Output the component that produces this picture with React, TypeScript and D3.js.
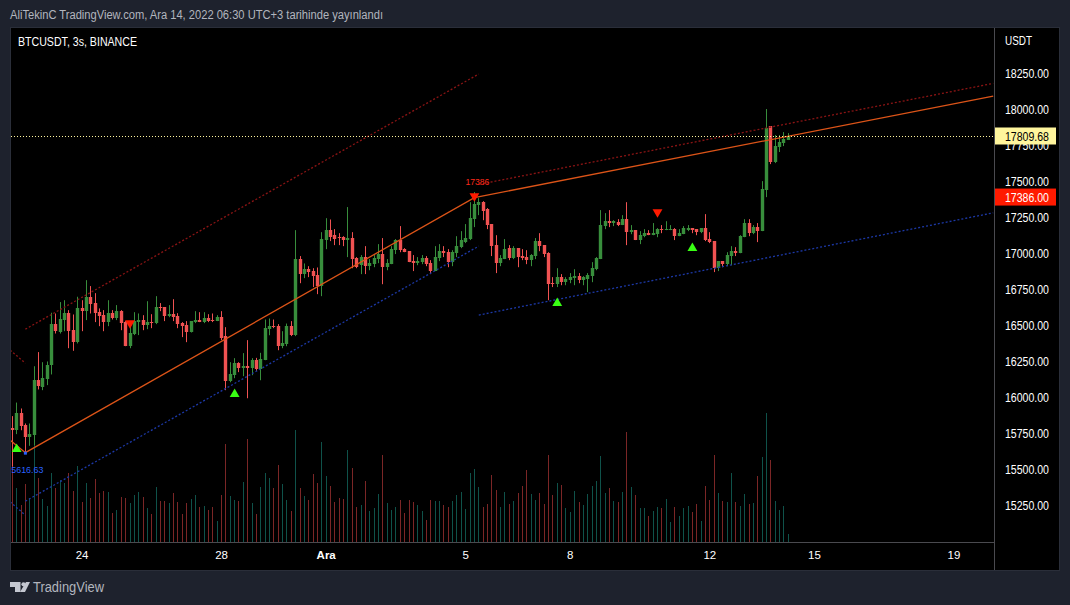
import React from 'react';
import * as d3 from 'd3';

// 3 hour candles, one per entry, oldest first
const opens = [15789,15772,15895,15807,15726,15740,16119,16071,16126,16223,16508,16452,16536,16584,16466,16381,16619,16598,16695,16654,16591,16570,16522,16584,16554,16598,16522,16355,16439,16522,16536,16501,16522,16513,16626,16626,16563,16577,16563,16515,16501,16452,16522,16536,16522,16550,16536,16529,16556,16425,16112,16154,16237,16203,16216,16203,16258,16200,16258,16473,16494,16494,16355,16369,16494,16431,16959,16855,16889,16876,16848,16771,17091,17160,17125,17111,17111,17091,17105,16966,16917,16973,16910,16924,16959,16994,16903,16924,17021,17091,17028,17014,16945,16931,16938,16966,16931,16876,16966,17014,17007,16938,17000,17042,17077,17098,17236,17334,17354,17306,17202,17056,16931,16959,17035,16966,17035,16980,16973,16952,16980,17084,17056,17000,16792,16785,16834,16799,16813,16827,16841,16813,16820,16841,16889,16959,17188,17222,17209,17216,17195,17236,17146,17160,17091,17118,17139,17125,17132,17167,17160,17160,17167,17118,17132,17160,17174,17167,17146,17174,17098,17084,16896,16945,16924,16980,17014,17000,17111,17209,17139,17181,17153,17438,17882,17632,17736,17764,17785];
const highs = [15870,15964,15923,15819,15819,16216,16314,16244,16249,16587,16582,16661,16674,16605,16575,16698,16674,16813,16772,16723,16617,16605,16674,16605,16640,16605,16529,16524,16591,16582,16570,16667,16577,16702,16654,16626,16640,16681,16584,16522,16529,16529,16598,16591,16591,16577,16582,16570,16598,16487,16244,16272,16244,16307,16397,16272,16274,16309,16540,16547,16540,16508,16459,16512,16529,17160,16980,16929,16910,16896,16901,17146,17243,17234,17167,17139,17118,17320,17146,16973,16987,17049,16959,16987,17063,17105,16959,17049,17098,17188,17035,17014,16987,16973,16987,16980,16952,17049,17063,17049,17028,17021,17118,17153,17202,17354,17424,17382,17361,17313,17202,17125,16987,17098,17056,17049,17035,17028,17021,16994,17105,17139,17056,17007,16834,16896,16855,16834,16862,16889,16862,16841,16862,16938,16973,17299,17278,17299,17229,17236,17264,17354,17195,17160,17153,17167,17160,17209,17174,17195,17222,17195,17174,17167,17188,17195,17174,17167,17174,17271,17146,17084,16945,16945,17007,17049,17042,17125,17236,17236,17195,17209,17500,18000,17882,17820,17820,17840,17833];
const lows = [15520,15745,15772,15616.63,15664,15668,16055,16050,16085,16159,16443,16443,16459,16341,16323,16374,16459,16536,16582,16522,16494,16459,16494,16540,16536,16466,16355,16341,16432,16432,16466,16473,16480,16508,16598,16529,16556,16529,16480,16418,16383,16450,16515,16522,16515,16522,16522,16529,16397,16050,16105,16133,16175,16147,15994,16154,16184,16119,16258,16431,16480,16327,16341,16355,16425,16425,16792,16827,16834,16765,16716,16702,17028,17084,17056,17056,17049,16973,16896,16896,16855,16855,16882,16903,16931,16785,16882,16924,16994,17007,17007,16938,16876,16917,16924,16910,16855,16876,16945,16973,16903,16910,16973,17035,17070,17091,17181,17264,17229,17167,16980,16862,16910,16959,16952,16959,16903,16952,16924,16910,16959,17014,16973,16674,16765,16765,16778,16778,16792,16778,16792,16778,16730,16799,16882,16959,17167,17181,17188,17188,17195,17056,17132,17091,17063,17111,17125,17125,17111,17139,17160,17160,17091,17118,17132,17153,17139,17125,17139,17084,17070,16869,16876,16903,16910,16917,16980,17000,17111,17118,17132,17077,17153,17389,17618,17625,17702,17743,17785];
const closes = [15772,15895,15800,15726,15745,16119,16078,16133,16223,16508,16459,16543,16582,16459,16385,16619,16598,16695,16647,16584,16563,16522,16584,16554,16598,16515,16355,16445,16529,16536,16501,16522,16517,16626,16619,16563,16577,16556,16508,16494,16452,16529,16536,16522,16550,16529,16529,16556,16411,16112,16161,16237,16203,16216,16203,16258,16200,16265,16480,16494,16485,16355,16376,16494,16431,16959,16855,16889,16869,16841,16776,17098,17160,17111,17098,17105,17091,17105,16959,16903,16973,16910,16931,16966,16994,16903,16931,17028,17091,17021,17007,16938,16931,16945,16966,16924,16876,16973,17014,17000,16938,17007,17049,17091,17105,17243,17340,17354,17292,17195,17049,16931,16966,17028,16966,17035,16973,16966,16952,16987,17084,17049,16994,16785,16785,16834,16799,16820,16834,16841,16813,16834,16848,16896,16966,17195,17222,17209,17222,17195,17236,17146,17160,17091,17125,17139,17125,17139,17167,17160,17167,17167,17118,17139,17174,17174,17160,17146,17174,17091,17077,16896,16945,16924,16987,17014,17000,17118,17209,17139,17181,17153,17445,17868,17632,17743,17771,17792,17809.68];
const volumes = [245,163,112,175,132,292,193,130,109,207,163,187,177,207,152,229,121,178,133,190,146,152,151,88,97,136,133,118,142,151,136,103,85,166,124,124,118,148,121,85,118,130,142,106,109,97,106,64,142,295,139,127,124,181,310,118,85,166,208,193,163,232,175,127,94,337,163,139,127,205,178,301,199,169,121,133,130,277,223,106,112,184,94,103,145,262,118,97,106,125,88,125,121,112,94,67,127,124,124,112,106,124,142,151,100,208,220,166,106,115,202,157,106,151,115,124,148,169,217,145,127,148,115,262,142,178,172,103,91,154,121,112,145,169,184,259,148,163,124,121,151,331,166,142,103,103,79,94,106,103,130,61,106,79,103,109,91,115,64,169,127,262,148,124,121,208,121,109,145,115,118,199,256,387,247,124,97,109,25];

const priceTicks = [18250,18000,17750,17500,17250,17000,16750,16500,16250,16000,15750,15500,15250];
const timeTicks = [
  { i: 16, label: '24' },
  { i: 48, label: '28' },
  { i: 72, label: 'Ara' },
  { i: 104, label: '5' },
  { i: 128, label: '8' },
  { i: 160, label: '12' },
  { i: 184, label: '15' },
  { i: 216, label: '19' },
];

// [bar index, price]
const zigzag = [[-0.5,15703],[3,15616.63],[106,17386],[225,18090]];
const upperChannels = [
  [[-0.5,16328],[3,16237]],
  [[3,16473],[107,18243]],
  [[107,17477],[225,18178]],
];
const lowerChannels = [
  [[-0.5,15275],[3,15183]],
  [[3,15280],[107,17049]],
  [[107,16571],[225,17280]],
];
const buySignals = [[1,15640],[51,16022],[125,16654],[156,17035]];
const sellSignals = [[27,16515],[106,17396],[148,17285]];

const lastPrice = 17809.68;
const pivotHigh = 17386;
const pivotLow = 15616.63;

const RED = '#f05252';
const GREEN = '#388e3c';
const VOL_RED = '#7b2626';
const VOL_GREEN = '#0f524a';
const FONT = '"Liberation Sans", Arial, sans-serif';

export default function App() {
  const x = d3.scaleLinear().domain([0, 178]).range([12.3, 788.3]);
  const y = d3.scaleLinear().domain([15250, 18250]).range([505.5, 73]);
  const yVol = d3.scaleLinear().domain([0, 387]).range([542, 413]);
  const px = (i: number) => Math.round(x(i) - 0.5) + 0.5;

  const line = d3.line<number[]>().x(d => x(d[0])).y(d => y(d[1]));
  const triangle = d3.symbol().type(d3.symbolTriangle).size(42)();
  const fmt = d3.format('.2f');
  const lastY = Math.round(y(lastPrice)) + 0.5;

  return (
    <svg
      width={1070}
      height={605}
      style={{ position: 'absolute', left: 0, top: 0, display: 'block', background: '#1e222d', fontFamily: FONT }}
    >
      <defs>
        <clipPath id="pane">
          <rect x={11} y={28} width={983} height={514} />
        </clipPath>
      </defs>

      {/* frame */}
      <rect x={10.5} y={27.5} width={1049} height={543} fill="#000" stroke="#2a2e39" />
      <line x1={994.5} x2={994.5} y1={28} y2={570} stroke="#4a4a4f" />
      <line x1={11} x2={994} y1={542.5} y2={542.5} stroke="#4a4a4f" />

      <g clipPath="url(#pane)">
        {/* volume */}
        <g shapeRendering="crispEdges">
          {volumes.map((v, i) => (
            <line
              key={i}
              x1={px(i)}
              x2={px(i)}
              y1={yVol(0)}
              y2={yVol(v)}
              stroke={closes[i] >= opens[i] ? VOL_GREEN : VOL_RED}
            />
          ))}
        </g>

        {/* candles */}
        {opens.map((o, i) => {
          const c = closes[i];
          const color = c >= o ? GREEN : RED;
          const top = Math.round(y(Math.max(o, c)));
          const bottom = Math.round(y(Math.min(o, c)));
          return (
            <g key={i}>
              <line x1={px(i)} x2={px(i)} y1={y(highs[i])} y2={y(lows[i])} stroke={color} />
              <rect x={px(i) - 1.7} y={top} width={3.4} height={Math.max(bottom - top, 1)} fill={color} />
            </g>
          );
        })}

        {/* channels */}
        {upperChannels.map((d, i) => (
          <path key={i} d={line(d) as string} fill="none" stroke="#8a1414" strokeWidth={1.3} strokeDasharray="2 2" />
        ))}
        {lowerChannels.map((d, i) => (
          <path key={i} d={line(d) as string} fill="none" stroke="#1c38a6" strokeWidth={1.3} strokeDasharray="2 2" />
        ))}
        <path d={line(zigzag) as string} fill="none" stroke="#dc5418" strokeWidth={1.3} />

        {/* last price line */}
        <line x1={11} x2={994} y1={lastY} y2={lastY} stroke="#fff59d" strokeDasharray="1 2" />

        {/* signals */}
        {buySignals.map((d, i) => (
          <path key={i} d={triangle as string} transform={`translate(${x(d[0])},${y(d[1])})`} fill="#39ff14" />
        ))}
        {sellSignals.map((d, i) => (
          <path key={i} d={triangle as string} transform={`translate(${x(d[0])},${y(d[1])}) rotate(180)`} fill="#ff1a00" />
        ))}
        <rect x={x(3) - 1.5} y={y(pivotLow) - 1} width={3} height={3} fill="#2962ff" />

        {/* pivot labels */}
        <text x={x(106) + 3} y={185} textAnchor="middle" fontSize={9.5} fill="#ff2a1a" textLength={24} lengthAdjust="spacingAndGlyphs">
          {pivotHigh}
        </text>
        <text x={x(3) - 0.5} y={473} textAnchor="middle" fontSize={9.5} fill="#2962ff" textLength={37} lengthAdjust="spacingAndGlyphs">
          {pivotLow}
        </text>
      </g>

      {/* price axis */}
      {priceTicks.map(p => (
        <text key={p} x={1005} y={y(p) + 4.5} fontSize={12} fill="#fff" textLength={44} lengthAdjust="spacingAndGlyphs">
          {fmt(p)}
        </text>
      ))}
      <text x={1005} y={45} fontSize={12} fill="#fff" textLength={27} lengthAdjust="spacingAndGlyphs">USDT</text>

      <rect x={995} y={lastY - 9} width={61} height={17} fill="#fff59d" />
      <text x={1005} y={lastY + 4} fontSize={12} fill="#000" textLength={44} lengthAdjust="spacingAndGlyphs">{fmt(lastPrice)}</text>
      <rect x={995} y={y(pivotHigh) - 9} width={61} height={17} fill="#ff1a00" />
      <text x={1005} y={y(pivotHigh) + 4} fontSize={12} fill="#fff" textLength={44} lengthAdjust="spacingAndGlyphs">{fmt(pivotHigh)}</text>

      {/* time axis */}
      {timeTicks.map(t => (
        <text
          key={t.label}
          x={x(t.i)}
          y={559}
          textAnchor="middle"
          fontSize={11.5}
          fontWeight={t.label === 'Ara' ? 'bold' : 'normal'}
          fill="#fff"
        >
          {t.label}
        </text>
      ))}

      {/* header */}
      <text x={10} y={19} fontSize={12} fill="#b2b5be" textLength={373} lengthAdjust="spacingAndGlyphs">
        AliTekinC TradingView.com, Ara 14, 2022 06:30 UTC+3 tarihinde yayınlandı
      </text>
      <text x={18} y={46} fontSize={12} fill="#fff" textLength={119} lengthAdjust="spacingAndGlyphs">BTCUSDT, 3s, BINANCE</text>

      {/* logo */}
      <g fill="#c4c7d0">
        <path d="M10 582H20.5V592H15V587H10Z" />
        <circle cx={23.5} cy={584.3} r={2.1} />
        <path d="M26 582H30L25 592H20Z" />
      </g>
      <text x={33} y={592} fontSize={14} fill="#b2b5be" textLength={71} lengthAdjust="spacingAndGlyphs">TradingView</text>
    </svg>
  );
}
